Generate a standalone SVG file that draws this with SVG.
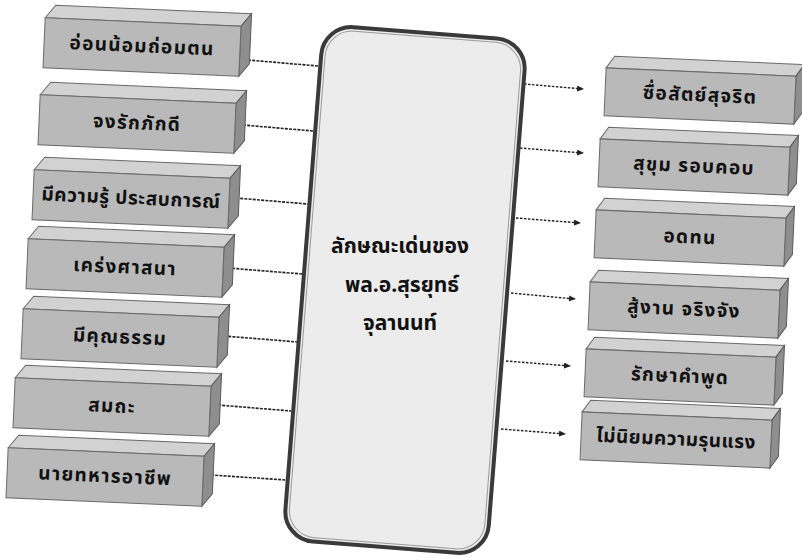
<svg xmlns="http://www.w3.org/2000/svg" width="802" height="560" viewBox="0 0 802 560">
<defs>
<style>
.front{fill:#b9b9b9;stroke:#6a6a6a;stroke-width:1}
.top{fill:#d2d2d2;stroke:#6a6a6a;stroke-width:1}
.side{fill:#8e8e8e;stroke:#5a5a5a;stroke-width:1}
.lbl{font-family:"Noto Sans Thai","Noto Sans","DejaVu Sans",sans-serif;font-weight:bold;font-size:19px;letter-spacing:1.3px;fill:#111;text-anchor:middle;dominant-baseline:middle}
.ctr{font-family:"Noto Sans Thai","Noto Sans","DejaVu Sans",sans-serif;font-weight:bold;font-size:21px;fill:#111;text-anchor:middle;dominant-baseline:middle}
.conn{stroke:#222;stroke-width:1.6;fill:none;stroke-dasharray:3 1.2}
.arr{stroke:#222;stroke-width:1.4;fill:none;stroke-dasharray:2.5 1.5}
</style>
<marker id="ah" markerWidth="8" markerHeight="8" refX="6" refY="3" orient="auto" markerUnits="userSpaceOnUse">
<path d="M0,0 L7,3 L0,6 z" fill="#222"/>
</marker>
<g id="boxL">
<polygon class="top" points="-98,-25 98,-25 108,-38 -88,-38"/>
<polygon class="side" points="98,-25 108,-38 108,12 98,25"/>
<rect class="front" x="-98" y="-25" width="196" height="50"/>
</g>
<g id="boxR">
<polygon class="top" points="-95,-24 95,-24 103,-36 -87,-36"/>
<polygon class="side" points="95,-24 103,-36 103,12 95,24"/>
<rect class="front" x="-95" y="-24" width="190" height="48"/>
</g>
</defs>
<rect width="802" height="560" fill="#ffffff"/>

<g id="connectors">
<line class="conn" x1="248" y1="60" x2="318" y2="66"/>
<line class="conn" x1="243" y1="125" x2="313" y2="131"/>
<line class="conn" x1="236" y1="198" x2="308" y2="204"/>
<line class="conn" x1="228" y1="268" x2="303" y2="274"/>
<line class="conn" x1="224" y1="336" x2="298" y2="342"/>
<line class="conn" x1="218" y1="405" x2="291" y2="411"/>
<line class="conn" x1="211" y1="475" x2="286" y2="480"/>
<line class="arr" x1="524" y1="84" x2="583" y2="89" marker-end="url(#ah)"/>
<line class="arr" x1="520" y1="148" x2="583" y2="153" marker-end="url(#ah)"/>
<line class="arr" x1="516" y1="218" x2="580" y2="223" marker-end="url(#ah)"/>
<line class="arr" x1="511" y1="293" x2="575" y2="299" marker-end="url(#ah)"/>
<line class="arr" x1="506" y1="361" x2="570" y2="366" marker-end="url(#ah)"/>
<line class="arr" x1="501" y1="429" x2="565" y2="434" marker-end="url(#ah)"/>
</g>

<g id="center">
<g transform="rotate(4.5 405 290)">
<rect x="303" y="32" width="204" height="516" rx="30" fill="#ececec" stroke="#3a3a3a" stroke-width="4"/>
<rect x="307" y="36" width="196" height="508" rx="27" fill="none" stroke="#9a9a9a" stroke-width="1"/>
</g>
<text class="ctr" x="400" y="247">ลักษณะเด่นของ</text>
<text class="ctr" x="402" y="286">พล.อ.สุรยุทธ์</text>
<text class="ctr" x="400" y="324">จุลานนท์</text>
</g>

<g id="L1" transform="translate(142,47) rotate(2.5)"><use href="#boxL"/><text class="lbl" x="0" y="0">อ่อนน้อมถ่อมตน</text></g>
<g id="L2" transform="translate(137,124) rotate(2.5)"><use href="#boxL"/><text class="lbl" x="0" y="0">จงรักภักดี</text></g>
<g id="L3" transform="translate(131,199) rotate(2.5)"><use href="#boxL"/><text class="lbl" x="0" y="0" style="letter-spacing:0.6px">มีความรู้ ประสบการณ์</text></g>
<g id="L4" transform="translate(125,268) rotate(2.5)"><use href="#boxL"/><text class="lbl" x="0" y="0">เคร่งศาสนา</text></g>
<g id="L5" transform="translate(120,338) rotate(2.5)"><use href="#boxL"/><text class="lbl" x="0" y="0">มีคุณธรรม</text></g>
<g id="L6" transform="translate(112,407) rotate(2.5)"><use href="#boxL"/><text class="lbl" x="0" y="0">สมถะ</text></g>
<g id="L7" transform="translate(105,477) rotate(2.5)"><use href="#boxL"/><text class="lbl" x="0" y="0">นายทหารอาชีพ</text></g>

<g id="R1" transform="translate(700,96) rotate(2.5)"><use href="#boxR"/><text class="lbl" x="0" y="0">ซื่อสัตย์สุจริต</text></g>
<g id="R2" transform="translate(694,167) rotate(2.5)"><use href="#boxR"/><text class="lbl" x="0" y="0">สุขุม รอบคอบ</text></g>
<g id="R3" transform="translate(690,238) rotate(2.5)"><use href="#boxR"/><text class="lbl" x="0" y="0">อดทน</text></g>
<g id="R4" transform="translate(684,310) rotate(2.5)"><use href="#boxR"/><text class="lbl" x="0" y="0">สู้งาน จริงจัง</text></g>
<g id="R5" transform="translate(680,377) rotate(2.5)"><use href="#boxR"/><text class="lbl" x="0" y="0">รักษาคำพูด</text></g>
<g id="R6" transform="translate(676,440) rotate(2.5)"><use href="#boxR"/><text class="lbl" x="0" y="0" style="letter-spacing:0.5px">ไม่นิยมความรุนแรง</text></g>
</svg>
